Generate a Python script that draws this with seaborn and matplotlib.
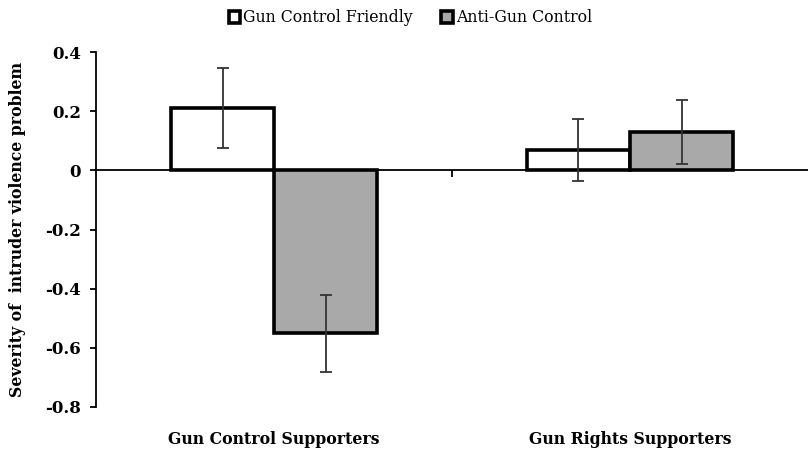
import matplotlib
matplotlib.use("Agg")
import matplotlib.pyplot as plt
import seaborn as sns
import pandas as pd

groups = ["Gun Control Supporters", "Gun Rights Supporters"]
conditions = ["Gun Control Friendly", "Anti-Gun Control"]
friendly_vals = [0.21, 0.07]
anti_vals = [-0.55, 0.13]
friendly_err = [0.135, 0.105]
anti_err = [0.13, 0.107]

df = pd.DataFrame({
    "group": groups * 2,
    "condition": [conditions[0]] * 2 + [conditions[1]] * 2,
    "value": friendly_vals + anti_vals,
})
errs = [friendly_err, anti_err]

sns.set_style("white")
plt.rcParams["font.family"] = ["DejaVu Serif"]
plt.rcParams["text.color"] = "black"
plt.rcParams["axes.labelcolor"] = "black"
plt.rcParams["ytick.color"] = "black"
plt.rcParams["xtick.color"] = "black"

fig = plt.figure(figsize=(8.08, 4.5), dpi=100)
ax = fig.add_axes([0.119, 0.0956, 0.881, 0.7884])

sns.barplot(data=df, x="group", y="value", hue="condition", order=groups,
            hue_order=conditions, palette=["white", "#a9a9a9"], width=0.58,
            edgecolor="black", linewidth=2.6, errorbar=None, ax=ax, zorder=2)

# error bars on each bar centre
for cont, err in zip(ax.containers, errs):
    xs = [p.get_x() + p.get_width() / 2 for p in cont]
    ys = [p.get_height() for p in cont]
    ax.errorbar(xs, ys, yerr=err, fmt="none", ecolor="#333333",
                elinewidth=1.3, capsize=4, capthick=1.3, zorder=3)

ax.set_xlim(-0.5, 1.5)
ax.set_ylim(-0.8, 0.4)
ax.set_yticks([0.4, 0.2, 0, -0.2, -0.4, -0.6, -0.8])
ax.set_yticklabels(["0.4", "0.2", "0", "-0.2", "-0.4", "-0.6", "-0.8"],
                   fontweight="bold", fontsize=12)
ax.tick_params(axis="y", direction="out", length=4, width=1.3, left=True, pad=7)
ax.set_ylabel("Severity of  intruder violence problem", fontweight="bold",
              fontsize=11.3, labelpad=14)
ax.set_xlabel("")

for s in ["top", "right"]:
    ax.spines[s].set_visible(False)
ax.spines["left"].set_linewidth(1.3)
ax.spines["left"].set_color("black")
ax.spines["bottom"].set_position(("data", 0))
ax.spines["bottom"].set_linewidth(1.3)
ax.spines["bottom"].set_color("black")
ax.spines["bottom"].set_zorder(1)

ax.set_xticks([0, 1])
ax.set_xticklabels([])
ax.set_xticks([0.5], minor=True)
ax.tick_params(axis="x", which="major", length=0)
ax.tick_params(axis="x", which="minor", direction="out", length=5, width=1.3,
               bottom=True, color="black")

sec = ax.secondary_xaxis(0)
sec.set_xticks([0, 1])
sec.set_xticklabels(groups, fontweight="bold", fontsize=11.3)
sec.tick_params(length=0, pad=17)
sec.spines["bottom"].set_visible(False)

handles, labels = ax.get_legend_handles_labels()
ax.legend(handles, labels, loc="upper center", bbox_to_anchor=(0.508, 1.0),
          bbox_transform=fig.transFigure, ncol=2, frameon=False,
          fontsize=11.3, handlelength=0.75, handleheight=0.75,
          handletextpad=0.2, columnspacing=1.8, borderaxespad=0.2)

fig.savefig("out.png", dpi=100)
